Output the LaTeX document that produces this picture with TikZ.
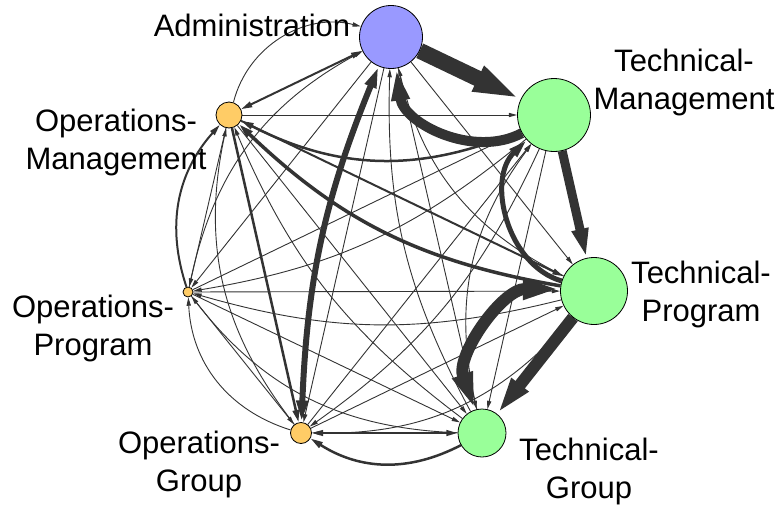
\documentclass[tikz,border=0pt]{standalone}
\usepackage{fontspec}
\setmainfont{Liberation Sans}
\usepackage{xcolor}
\usetikzlibrary{arrows.meta,positioning,shapes}
\pgfdeclarelayer{bg}
\pgfsetlayers{bg,main}
\definecolor{adm}{RGB}{153,153,255}
\definecolor{tec}{RGB}{153,255,153}
\definecolor{ops}{RGB}{255,204,102}
\definecolor{tiegray}{RGB}{51,51,51}

\begin{document}
\begin{tikzpicture}[x = 1pt, y = -1pt,
  >={Triangle[length = 6pt 2.6, width = 3pt 1.35]},
  lab/.style = {font = \fontsize{31}{38}\selectfont, align = center},
  unit/.style = {circle, draw, line width = .8pt, inner sep = 0pt},
  tie/.style = {->, draw = tiegray, line width = .9pt}]
\useasboundingbox (0,0) rectangle (778,506);
\node[unit, fill = adm, minimum size = 63pt] (a) at (391,37) {};
\node[unit, fill = tec, minimum size = 73pt] (tm) at (554,115) {};
\node[unit, fill = tec, minimum size = 67pt] (tp) at (594,291) {};
\node[unit, fill = tec, minimum size = 48pt] (tg) at (482,433) {};
\node[unit, fill = ops, minimum size = 21pt] (og) at (301,433) {};
\node[unit, fill = ops, minimum size = 10pt] (op) at (188,292) {};
\node[unit, fill = ops, minimum size = 26pt] (om) at (229,115) {};
\node[lab] (alab) at (252,25) {Administration};
\node[lab] (tmlab) at (684,82) {Technical-\\Management};
\node[lab] (tplab) at (701,294) {Technical-\\Program};
\node[lab] (tglab) at (589,471) {Technical-\\Group};
\node[lab] (oglab) at (199,464) {Operations-\\Group};
\node[lab] (oplab) at (93,328) {Operations-\\Program};
\node[lab] (omlab) at (116,142) {Operations-\\Management};
\begin{pgfonlayer}{bg}
\draw[tie, <->, line width = 2pt] (a) -- (om);
\draw[tie] (a) -- (op);
\draw[tie] (a) -- (og);
\draw[tie, line width = 16pt] (a) -- (tm);
\draw[tie] (a) -- (tp);
\draw[tie] (a) -- (tg);
\draw[tie] (om) -- (op);
\draw[tie, line width = 2.5pt] (om) -- (og);
\draw[tie] (om) -- (tm);
\draw[tie, line width = 2pt] (om) -- (tp);
\draw[tie] (om) -- (tg);
\draw[tie] (op) -- (og);
\draw[tie] (op) -- (tm);
\draw[tie] (op) -- (tp);
\draw[tie] (op) -- (tg);
\draw[tie] (og) -- (tm);
\draw[tie] (og) -- (tp);
\draw[tie, <->, line width = 2pt] (og) -- (tg);
\draw[tie, line width = 9pt] (tm) -- (tp);
\draw[tie] (tm) -- (tg);
\draw[tie, line width = 12pt] (tp) -- (tg);
\draw[tie] (om) to[bend left = 45] (a);
\draw[tie] (op) to[bend left = 25] (a);
\draw[tie, <->, line width = 6pt] (og) to[bend left = 10] (a);
\draw[tie, line width = 10pt] (tm) to[bend left = 55] (a);
\draw[tie] (tp) to[bend left = 25] (a);
\draw[tie] (tg) to[bend left = 15] (a);
\draw[tie, line width = 2pt] (op) to[bend left = 30] (om);
\draw[tie] (og) to[bend left = 25] (om);
\draw[tie, line width = 2.5pt] (tm) to[bend left = 25] (om);
\draw[tie, line width = 3.5pt] (tp) to[bend left = 17] (om);
\draw[tie] (tg) to[bend left = 15] (om);
\draw[tie] (og) to[bend left = 35] (op);
\draw[tie] (tm) to[bend left = 15] (op);
\draw[tie] (tp) to[bend left = 15] (op);
\draw[tie] (tg) to[bend left = 25] (op);
\draw[tie] (tm) to[bend left = 15] (og);
\draw[tie] (tp) to[bend left = 25] (og);
\draw[tie, line width = 2.5pt] (tg) to[bend left = 30] (og);
\draw[tie, line width = 5pt] (tp) to[bend left = 60] (tm);
\draw[tie] (tg) to[bend left = 25] (tm);
\draw[tie, <->, line width = 12pt] (tg) to[bend left = 55] (tp);
\end{pgfonlayer}
\end{tikzpicture}
\end{document}
